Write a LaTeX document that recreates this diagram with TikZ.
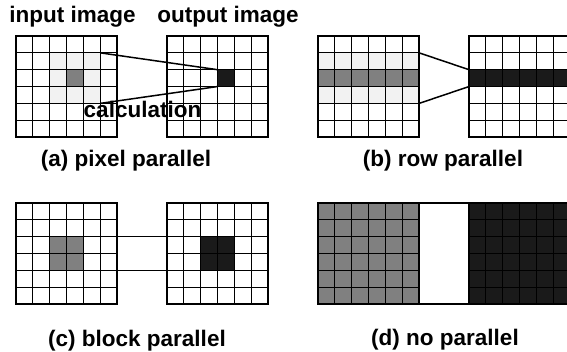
\documentclass[tikz,border=0pt]{standalone}
\usepackage{fontspec}
\setmainfont{Liberation Sans}
\definecolor{lgray}{HTML}{F2F2F2}
\definecolor{mgray}{HTML}{808080}
\definecolor{dblack}{HTML}{1A1A1A}
\newcommand\cellsz{16.85}
\newcommand\cellfill[5]{\fill[#5] ({#1+#3*\cellsz},{#2+#4*\cellsz}) rectangle +(\cellsz,\cellsz);}
\newcommand\gridat[3]{%
  \foreach \k in {1,...,5} {
    \draw[gridline] ({#2+\k*\cellsz},#3) -- ({#2+\k*\cellsz},{#3+6*\cellsz});
    \draw[gridline] (#2,{#3+\k*\cellsz}) -- ({#2+6*\cellsz},{#3+\k*\cellsz});
  }
  \draw[gridborder] (#2,#3) rectangle ({#2+6*\cellsz},{#3+6*\cellsz});
  \coordinate (#1-nw) at (#2,#3);
  \coordinate (#1-ne) at ({#2+6*\cellsz},#3);
  \coordinate (#1-sw) at (#2,{#3+6*\cellsz});
  \coordinate (#1-se) at ({#2+6*\cellsz},{#3+6*\cellsz});
}
\begin{document}
\begin{tikzpicture}[x=1pt,y=-1pt,
  gridline/.style={line width=1.1pt},
  gridborder/.style={line width=1.6pt},
  lbl/.style={font=\fontsize{22.5}{25}\selectfont\bfseries, inner sep=0pt, anchor=base},
  conn/.style={line width=1.5pt}]
\useasboundingbox (0,0) rectangle (567,352);
\clip (0,0) rectangle (567,352);
\fill[white] (0,0) rectangle (567,352);

% (a) pixel parallel
\foreach \c in {2,3,4} {\foreach \r in {1,2,3} {\cellfill{16}{36}{\c}{\r}{lgray}}}
\cellfill{16}{36}{3}{2}{mgray}
\cellfill{167}{36}{3}{2}{dblack}
\gridat{ain}{16}{36}
\gridat{aout}{167}{36}
\coordinate (a1) at ({16+5*\cellsz},{36+1*\cellsz});
\coordinate (a2) at ({16+5*\cellsz},{36+4*\cellsz});
\coordinate (a3) at ({167+3*\cellsz},{36+2*\cellsz});
\coordinate (a4) at ({167+3*\cellsz},{36+3*\cellsz});
\draw[conn] (a1) -- (a3);
\draw[conn] (a2) -- (a4);

% (b) row parallel
\foreach \c in {0,...,5} {\cellfill{318}{36}{\c}{1}{lgray}\cellfill{318}{36}{\c}{3}{lgray}\cellfill{318}{36}{\c}{2}{mgray}\cellfill{469}{36}{\c}{2}{dblack}}
\gridat{bin}{318}{36}
\gridat{bout}{469}{36}
\coordinate (b1) at ({318+6*\cellsz},{36+1*\cellsz});
\coordinate (b2) at ({318+6*\cellsz},{36+4*\cellsz});
\coordinate (b3) at (469,{36+2*\cellsz});
\coordinate (b4) at (469,{36+3*\cellsz});
\draw[conn] (b1) -- (b3);
\draw[conn] (b2) -- (b4);

% (c) block parallel
\foreach \c in {2,3} {\foreach \r in {2,3} {\cellfill{16}{203}{\c}{\r}{mgray}\cellfill{167}{203}{\c}{\r}{dblack}}}
\gridat{cin}{16}{203}
\gridat{cout}{167}{203}
\coordinate (c1) at ({16+6*\cellsz},{203+2*\cellsz});
\coordinate (c2) at ({16+6*\cellsz},{203+4*\cellsz});
\coordinate (c3) at (167,{203+2*\cellsz});
\coordinate (c4) at (167,{203+4*\cellsz});
\draw[conn] (c1) -- (c3);
\draw[conn] (c2) -- (c4);

% (d) no parallel
\fill[mgray] (318,203) rectangle +({6*\cellsz},{6*\cellsz});
\fill[dblack] (469,203) rectangle +({6*\cellsz},{6*\cellsz});
\gridat{din}{318}{203}
\gridat{dout}{469}{203}
\draw[gridborder] (din-ne) -- (dout-nw);
\draw[gridborder] (din-se) -- (dout-sw);

% labels
\node[lbl] (tin) at (72.5,23) {input image};
\node[lbl] (tout) at (228,23) {output image};
\node[lbl] (tcalc) at (142.5,118) {calculation};
\node[lbl] (la) at (126,167) {(a) pixel parallel};
\node[lbl] (lb) at (443,167) {(b) row parallel};
\node[lbl] (lc) at (137,346) {(c) block parallel};
\node[lbl] (ld) at (445,345) {(d) no parallel};
\end{tikzpicture}
\end{document}
